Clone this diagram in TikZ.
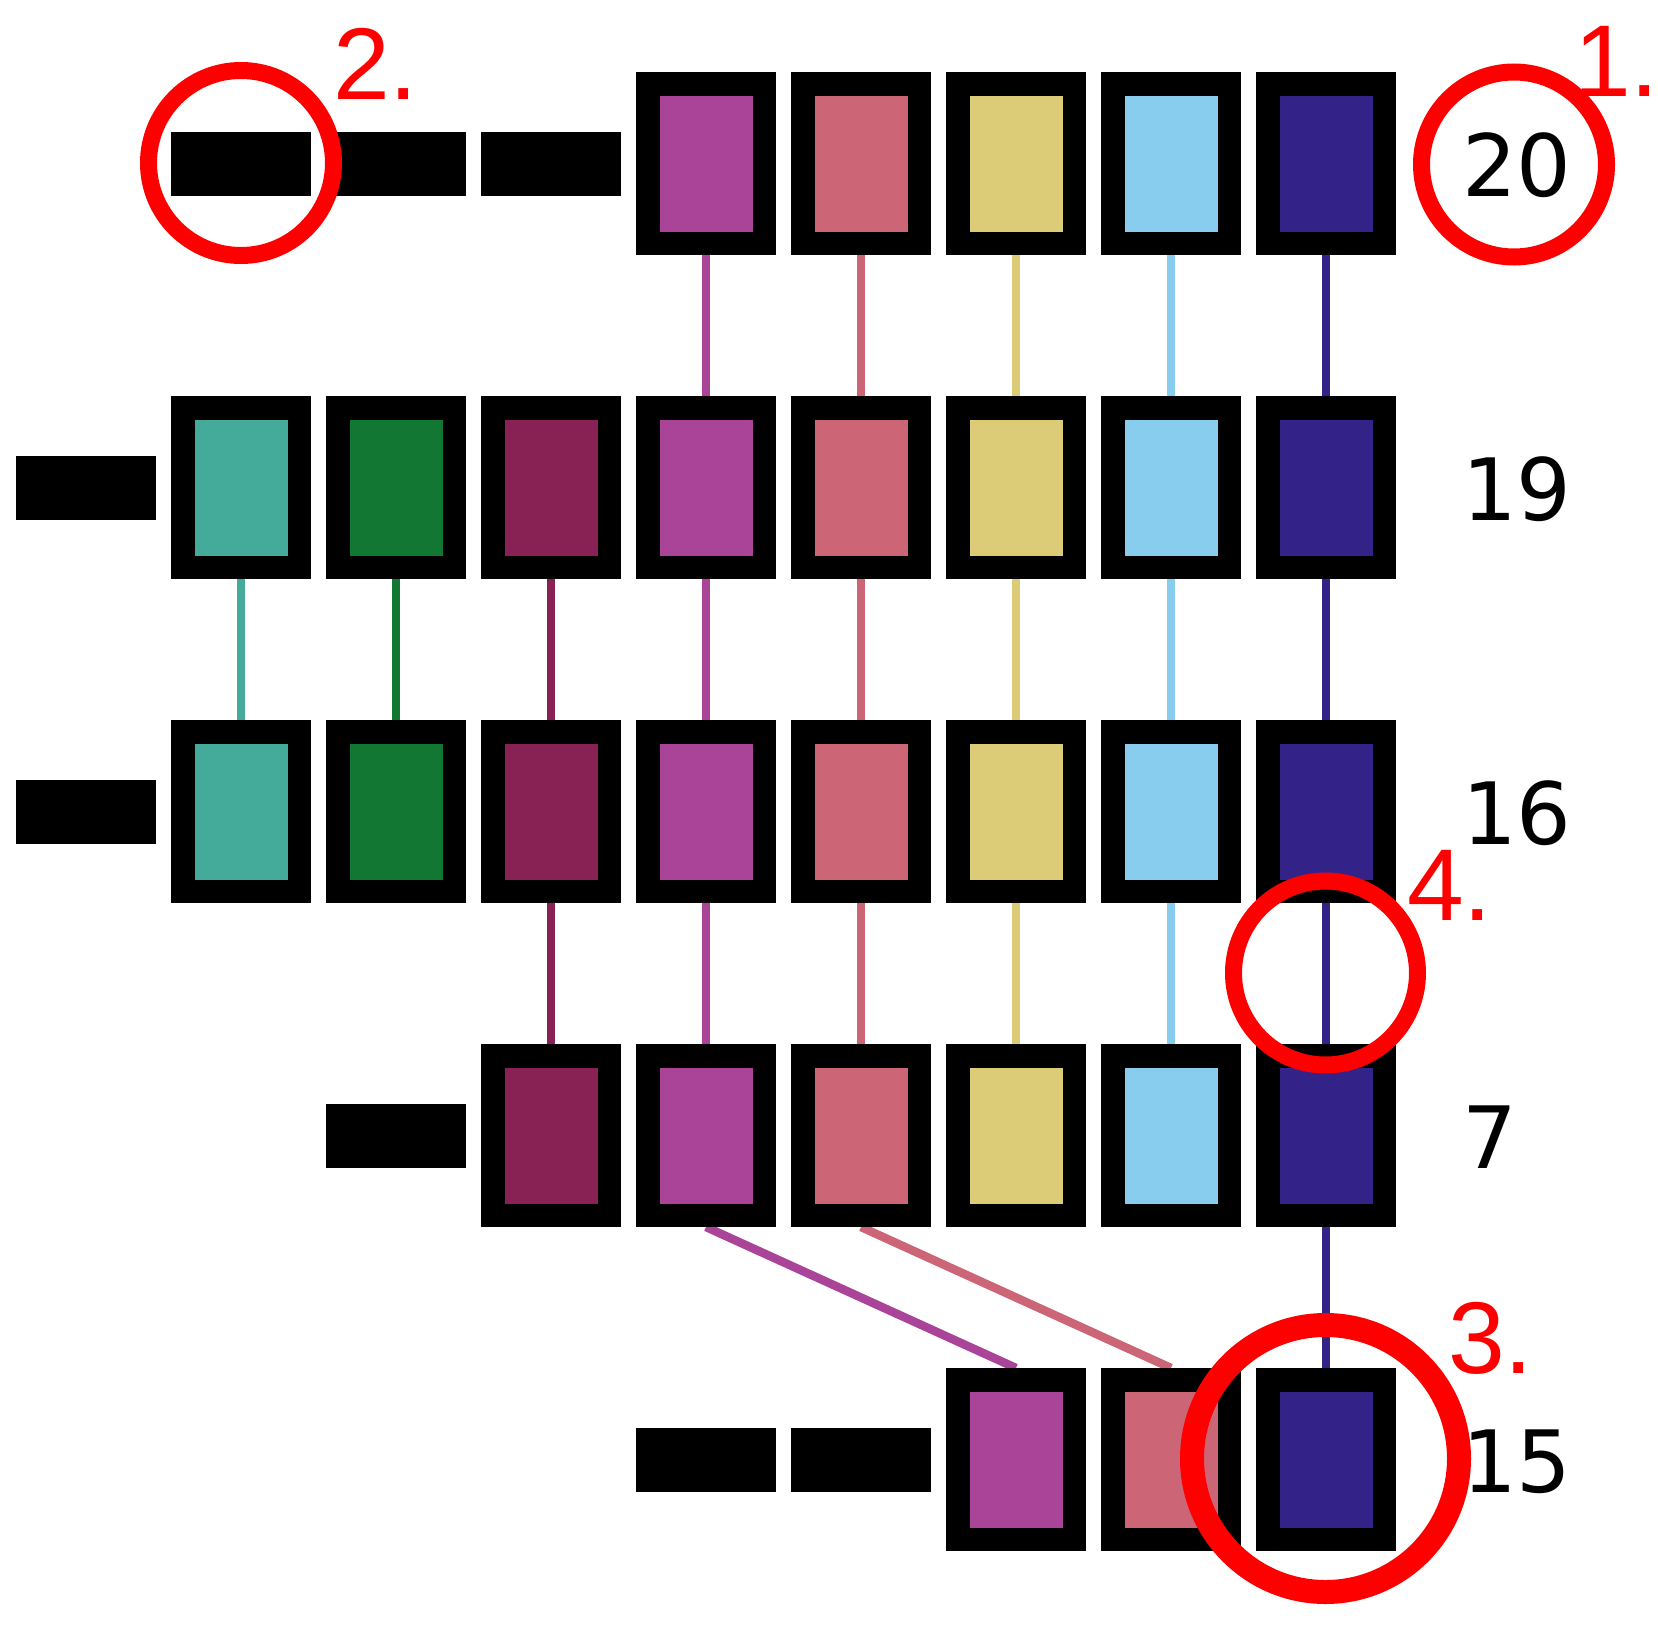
\documentclass[tikz,border=0pt]{standalone}
\usepackage{fontspec}
\setmainfont{DejaVu Sans}
\newfontfamily\tagfont{Liberation Sans}
\usetikzlibrary{backgrounds}
\definecolor{tolpurple}{HTML}{AA4499}
\definecolor{tolrose}{HTML}{CC6677}
\definecolor{tolsand}{HTML}{DDCC77}
\definecolor{tolcyan}{HTML}{88CCEE}
\definecolor{tolindigo}{HTML}{332288}
\definecolor{tolteal}{HTML}{44AA99}
\definecolor{tolgreen}{HTML}{117733}
\definecolor{tolwine}{HTML}{882255}

\begin{document}
\begin{tikzpicture}[x=1pt, y=-1pt]
\tikzstyle{every node}+=[inner sep=0pt]
\tikzstyle{cell}=[draw=black, line width=23.5pt, minimum width=116.5pt, minimum height=159.5pt]
\tikzstyle{gone}=[fill=black, minimum width=140pt, minimum height=64pt]
\tikzstyle{link}=[line width=8.5pt]
\tikzstyle{count}=[anchor=west, font=\fontsize{86}{90}\selectfont]
\tikzstyle{tag}=[anchor=base west, text=red, font=\tagfont\fontsize{102}{110}\selectfont]
\tikzstyle{ring}=[draw=red, line width=17pt]
\useasboundingbox (0,0) rectangle (1658,1633);
% row 1
\node [gone] (r1c1) at (241,163.5) {};
\node [gone] (r1c2) at (396,163.5) {};
\node [gone] (r1c3) at (551,163.5) {};
\node [cell, fill=tolpurple] (r1c4) at (706,163.5) {};
\node [cell, fill=tolrose] (r1c5) at (861,163.5) {};
\node [cell, fill=tolsand] (r1c6) at (1016,163.5) {};
\node [cell, fill=tolcyan] (r1c7) at (1171,163.5) {};
\node [cell, fill=tolindigo] (r1c8) at (1326,163.5) {};
\node [count] (n1) at (1462,165.5) {20};
% row 2
\node [gone] (r2c0) at (86,487.5) {};
\node [cell, fill=tolteal] (r2c1) at (241,487.5) {};
\node [cell, fill=tolgreen] (r2c2) at (396,487.5) {};
\node [cell, fill=tolwine] (r2c3) at (551,487.5) {};
\node [cell, fill=tolpurple] (r2c4) at (706,487.5) {};
\node [cell, fill=tolrose] (r2c5) at (861,487.5) {};
\node [cell, fill=tolsand] (r2c6) at (1016,487.5) {};
\node [cell, fill=tolcyan] (r2c7) at (1171,487.5) {};
\node [cell, fill=tolindigo] (r2c8) at (1326,487.5) {};
\node [count] (n2) at (1462,489.5) {19};
% row 3
\node [gone] (r3c0) at (86,811.5) {};
\node [cell, fill=tolteal] (r3c1) at (241,811.5) {};
\node [cell, fill=tolgreen] (r3c2) at (396,811.5) {};
\node [cell, fill=tolwine] (r3c3) at (551,811.5) {};
\node [cell, fill=tolpurple] (r3c4) at (706,811.5) {};
\node [cell, fill=tolrose] (r3c5) at (861,811.5) {};
\node [cell, fill=tolsand] (r3c6) at (1016,811.5) {};
\node [cell, fill=tolcyan] (r3c7) at (1171,811.5) {};
\node [cell, fill=tolindigo] (r3c8) at (1326,811.5) {};
\node [count] (n3) at (1462,813.5) {16};
% row 4
\node [gone] (r4c2) at (396,1135.5) {};
\node [cell, fill=tolwine] (r4c3) at (551,1135.5) {};
\node [cell, fill=tolpurple] (r4c4) at (706,1135.5) {};
\node [cell, fill=tolrose] (r4c5) at (861,1135.5) {};
\node [cell, fill=tolsand] (r4c6) at (1016,1135.5) {};
\node [cell, fill=tolcyan] (r4c7) at (1171,1135.5) {};
\node [cell, fill=tolindigo] (r4c8) at (1326,1135.5) {};
\node [count] (n4) at (1462,1137.5) {7};
% row 5
\node [gone] (r5c4) at (706,1459.5) {};
\node [gone] (r5c5) at (861,1459.5) {};
\node [cell, fill=tolpurple] (r5c6) at (1016,1459.5) {};
\node [cell, fill=tolrose] (r5c7) at (1171,1459.5) {};
\node [cell, fill=tolindigo] (r5c8) at (1326,1459.5) {};
\node [count] (n5) at (1462,1461.5) {15};
% links
\begin{scope}[on background layer]
\draw [link, tolpurple] (r1c4.south) -- (r2c4.north);
\draw [link, tolrose] (r1c5.south) -- (r2c5.north);
\draw [link, tolsand] (r1c6.south) -- (r2c6.north);
\draw [link, tolcyan] (r1c7.south) -- (r2c7.north);
\draw [link, tolindigo] (r1c8.south) -- (r2c8.north);
\draw [link, tolteal] (r2c1.south) -- (r3c1.north);
\draw [link, tolgreen] (r2c2.south) -- (r3c2.north);
\draw [link, tolwine] (r2c3.south) -- (r3c3.north);
\draw [link, tolpurple] (r2c4.south) -- (r3c4.north);
\draw [link, tolrose] (r2c5.south) -- (r3c5.north);
\draw [link, tolsand] (r2c6.south) -- (r3c6.north);
\draw [link, tolcyan] (r2c7.south) -- (r3c7.north);
\draw [link, tolindigo] (r2c8.south) -- (r3c8.north);
\draw [link, tolwine] (r3c3.south) -- (r4c3.north);
\draw [link, tolpurple] (r3c4.south) -- (r4c4.north);
\draw [link, tolrose] (r3c5.south) -- (r4c5.north);
\draw [link, tolsand] (r3c6.south) -- (r4c6.north);
\draw [link, tolcyan] (r3c7.south) -- (r4c7.north);
\draw [link, tolindigo] (r3c8.south) -- (r4c8.north);
\draw [link, tolpurple] (r4c4.south) -- (r5c6.north);
\draw [link, tolrose] (r4c5.south) -- (r5c7.north);
\draw [link, tolindigo] (r4c8.south) -- (r5c8.north);
\end{scope}
% marks
\draw [ring] (1514,164.5) circle (92.5);
\node [tag] (t1) at (1574,96) {1.};
\draw [ring] (241,163) circle (92.5);
\node [tag] (t2) at (333,99) {2.};
\draw [ring, line width=24pt] (1325.5,1458.5) circle (133.5);
\node [tag] (t3) at (1448,1373) {3.};
\draw [ring] (1325.5,973) circle (92);
\node [tag] (t4) at (1407,920) {4.};
\end{tikzpicture}
\end{document}
